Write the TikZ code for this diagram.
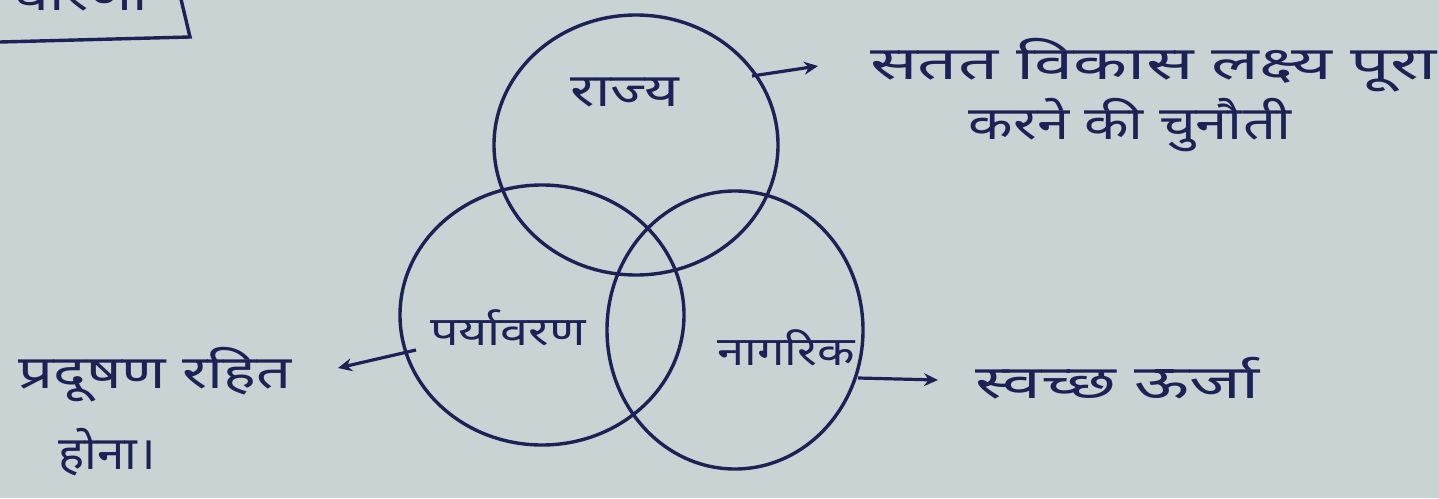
\documentclass[tikz,border=0pt]{standalone}
\usepackage{fontspec}
\newfontfamily\deva[Script=Devanagari]{Noto Sans}
\definecolor{paper}{HTML}{C9D3D3}
\definecolor{ink}{HTML}{1C2255}
\usetikzlibrary{arrows.meta}
\tikzset{
  ring/.style={draw=ink, line width=3.4pt},
  lbl/.style={text=ink, font=\deva\fontsize{46}{54}\selectfont, inner sep=0pt, align=center},
  arr/.style={draw=ink, line width=3.2pt, -{Stealth[length=14pt,width=13pt]}}
}
\begin{document}
\begin{tikzpicture}[x=1pt,y=-1pt]
\fill[paper] (0,0) rectangle (1439,498);
\useasboundingbox (0,0) rectangle (1439,498);
% partial box top-left
\begin{scope}
\clip (0,0) rectangle (1439,498);
\node[lbl, xscale=1.3] (boxt) at (80,-4) {धारणा};
\draw[ink, line width=3.4pt] (0,42) -- (190,37) -- (180,-5);
\end{scope}
% circles
\draw[ring] (636,145) ellipse [x radius=142, y radius=130];
\draw[ring] (542,315) ellipse [x radius=142, y radius=130];
\draw[ring] (735,330) ellipse [x radius=128, y radius=139];
% labels
\node[lbl, xscale=1.3] (rajya) at (625,92) {राज्य};
\node[lbl, xscale=1.26, font=\deva\fontsize{40}{46}\selectfont] (paryavaran) at (508,328) {पर्यावरण};
\node[lbl, xscale=1.22, font=\deva\fontsize{40}{46}\selectfont] (nagrik) at (786,348) {नागरिक};
\node[lbl, xscale=1.53, anchor=west] (t1) at (870,65) {सतत विकास लक्ष्य पूरा};
\node[lbl, xscale=1.26] (t2) at (1130,125) {करने की चुनौती};
\node[lbl, xscale=1.34, anchor=west] (t3) at (18,375) {प्रदूषण रहित};
\node[lbl, xscale=1.07, anchor=west] (t4) at (58,452) {होना।};
\node[lbl, xscale=1.52, anchor=west] (t5) at (975,378) {स्वच्छ ऊर्जा};
% arrows
\coordinate (a1) at (752,76);
\coordinate (b1) at (818,66);
\draw[arr] (a1) -- (b1);
\coordinate (a2) at (416,350);
\coordinate (b2) at (338,368);
\draw[arr] (a2) -- (b2);
\coordinate (a3) at (858,378);
\coordinate (b3) at (938,380);
\draw[arr] (a3) -- (b3);
\end{tikzpicture}
\end{document}
